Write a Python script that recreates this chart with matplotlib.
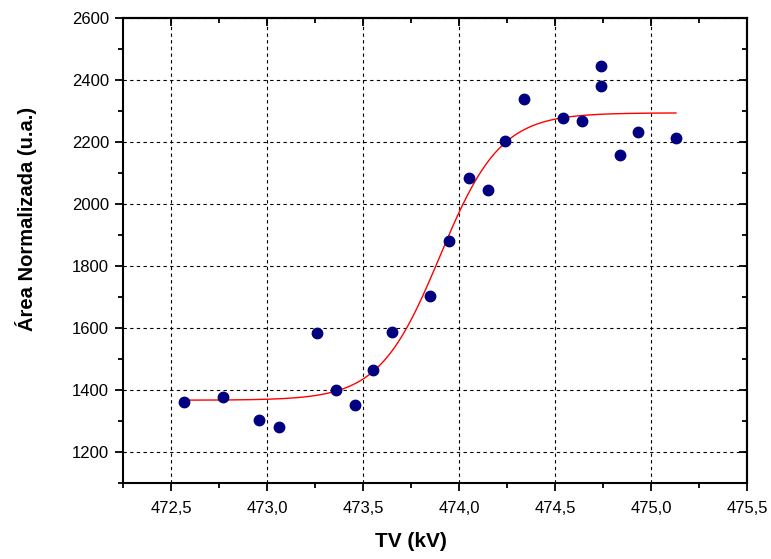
import numpy as np
import matplotlib
matplotlib.use("Agg")
import matplotlib.pyplot as plt
from matplotlib.ticker import MultipleLocator, FuncFormatter

# measured points (TV in kV, normalized area)
tv = [472.57, 472.77, 472.96, 473.06, 473.26, 473.36, 473.46, 473.55, 473.65,
      473.85, 473.95, 474.05, 474.15, 474.24, 474.34, 474.54, 474.64, 474.74,
      474.74, 474.84, 474.93, 475.13]
area = [1360, 1376, 1302, 1279, 1585, 1400, 1350, 1466, 1588,
        1704, 1881, 2084, 2045, 2203, 2339, 2278, 2268, 2381,
        2445, 2158, 2232, 2213]

# Boltzmann fit parameters
A1 = 1367
A2 = 2294
x0 = 473.90
dx = 0.158
fit_range = (472.57, 475.13)

plt.rcParams['font.family'] = ['Liberation Sans', 'DejaVu Sans']

fig = plt.figure(figsize=(7.71, 5.59), dpi=100)
ax = fig.add_axes([0.1595, 0.136, 0.8094, 0.8318])

xf = np.linspace(fit_range[0], fit_range[1], 300)
yf = A2 + (A1 - A2) / (1 + np.exp((xf - x0) / dx))
ax.plot(xf, yf, color='red', lw=1.0, zorder=2)
ax.plot(tv, area, 'o', color='#000080', markersize=7.5, zorder=3)

ax.set_xlim(472.25, 475.5)
ax.set_ylim(1100, 2600)
ax.xaxis.set_major_locator(MultipleLocator(0.5))
ax.xaxis.set_minor_locator(MultipleLocator(0.25))
ax.yaxis.set_major_locator(MultipleLocator(200))
ax.yaxis.set_minor_locator(MultipleLocator(100))
ax.xaxis.set_major_formatter(FuncFormatter(lambda v, p: f"{v:.1f}".replace('.', ',')))

ax.grid(True, which='major', color='black', linestyle=(0, (3, 3)), lw=0.8)
ax.tick_params(which='major', direction='out', length=6, width=1.3, labelsize=12)
ax.tick_params(which='minor', direction='out', length=3.5, width=1.3)
ax.tick_params(axis='x', which='major', pad=7)
ax.tick_params(axis='y', which='major', pad=4)
for s in ax.spines.values():
    s.set_linewidth(1.5)

# inward ticks on top and right
top = ax.secondary_xaxis('top')
top.xaxis.set_major_locator(MultipleLocator(0.5))
top.xaxis.set_minor_locator(MultipleLocator(0.25))
top.tick_params(which='major', direction='in', length=6, width=1.3, labeltop=False)
top.tick_params(which='minor', direction='in', length=3.5, width=1.3)
top.spines['top'].set_linewidth(1.5)
right = ax.secondary_yaxis('right')
right.yaxis.set_major_locator(MultipleLocator(200))
right.yaxis.set_minor_locator(MultipleLocator(100))
right.tick_params(which='major', direction='in', length=6, width=1.3, labelright=False)
right.tick_params(which='minor', direction='in', length=3.5, width=1.3)
right.spines['right'].set_linewidth(1.5)

ax.set_xlabel('TV (kV)', fontsize=15, fontweight='bold')
ax.set_ylabel('Área Normalizada (u.a.)', fontsize=14.5, fontweight='bold')
ax.xaxis.set_label_coords(0.4615, -0.105)
ax.yaxis.set_label_coords(-0.138, 0.568)

fig.savefig('out.png', dpi=100)
